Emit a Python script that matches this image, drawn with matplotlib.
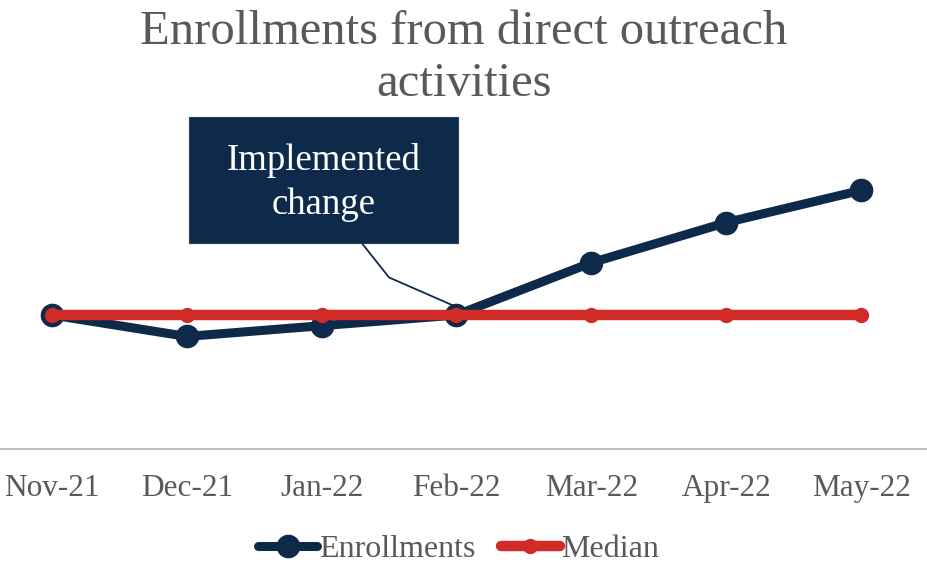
import matplotlib
matplotlib.use("Agg")
import matplotlib.pyplot as plt
from matplotlib.patches import Rectangle
from matplotlib.lines import Line2D

months = ["Nov-21", "Dec-21", "Jan-22", "Feb-22", "Mar-22", "Apr-22", "May-22"]
enrollments = [10.0, 8.4, 9.2, 10.0, 13.9, 16.9, 19.3]
median = [10.0, 10.0, 10.0, 10.0, 10.0, 10.0, 10.0]

NAVY = "#0D2A4A"
RED = "#D12B28"
GRAY = "#595959"

plt.rcParams["font.family"] = ["Liberation Serif", "DejaVu Serif"]

W, H = 927, 563
fig = plt.figure(figsize=(W / 100, H / 100), dpi=100)

# axes spanning the full width so the category axis line runs edge to edge
left_px, right_px = -15.5, 928.5
bottom_px, top_px = 449, 114
ax = fig.add_axes([left_px / W, (H - bottom_px) / H,
                   (right_px - left_px) / W, (bottom_px - top_px) / H])
x = list(range(len(months)))
ax.set_xlim(-0.5, len(months) - 0.5)
ax.set_ylim(0, 25)

ax.plot(x, enrollments, color=NAVY, lw=6.5, marker="o", ms=16,
        solid_capstyle="round", zorder=3, clip_on=False)
ax.plot(x, median, color=RED, lw=7.5, marker="o", ms=10,
        solid_capstyle="round", zorder=4, clip_on=False)

for s in ["top", "right", "left"]:
    ax.spines[s].set_visible(False)
ax.spines["bottom"].set_color("#BFBFBF")
ax.spines["bottom"].set_linewidth(1.5)
ax.set_yticks([])
ax.set_xticks(x)
ax.set_xticklabels(months, fontsize=22.5, color=GRAY)
ax.tick_params(axis="x", length=0, pad=18)

# annotation box with leader line to the Feb-22 point
box_x0, box_x1, box_y0, box_y1 = 1.02, 3.01, 15.4, 24.8
ax.add_patch(Rectangle((box_x0, box_y0), box_x1 - box_x0, box_y1 - box_y0,
                       facecolor=NAVY, edgecolor="#2A3F5A", lw=0.8,
                       zorder=5, clip_on=False))
ax.text((box_x0 + box_x1) / 2, (box_y0 + box_y1) / 2 - 0.2,
        "Implemented\nchange", color="white", fontsize=26.5,
        ha="center", va="center", linespacing=1.35, zorder=6)
ax.plot([2.24, 2.50, 3.0], [16.1, 12.8, 10.6], color=NAVY, lw=1.3,
        zorder=2, clip_on=False)

fig.text(0.5, 0.982, "Enrollments from direct outreach\nactivities",
         ha="center", va="top", fontsize=35, color=GRAY, linespacing=1.22)

handles = [
    Line2D([], [], color=NAVY, lw=6.5, marker="o", ms=16, solid_capstyle="round"),
    Line2D([], [], color=RED, lw=7.5, marker="o", ms=10, solid_capstyle="round"),
]
leg = fig.legend(handles, ["Enrollments", "Median"], loc="center",
                 bbox_to_anchor=(0.495, (H - 549) / H), ncol=2, frameon=False,
                 fontsize=23, handlelength=1.85, handletextpad=0.05,
                 columnspacing=0.8, borderpad=0)
for t in leg.get_texts():
    t.set_color(GRAY)

fig.savefig("out.png", dpi=100)
